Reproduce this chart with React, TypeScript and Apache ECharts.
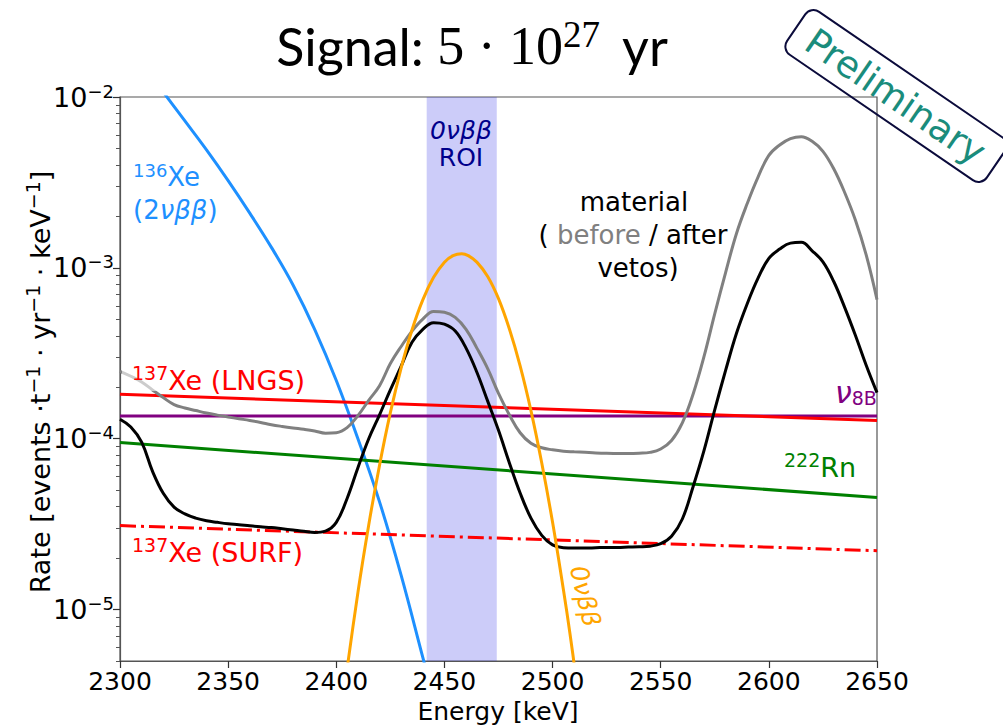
import React, { useEffect, useRef } from 'react';
import * as echarts from 'echarts';

// ---------- data ----------
const xMin = 2300;
const xMax = 2650;
const xInterval = 50;
const yMin = 5e-6;
const yMax = 1e-2;
const yMajorExp = [-5, -4, -3, -2];

const roiRange = [2441.8, 2474.2];

const xe136E = [2315, 2320, 2330, 2340, 2350, 2360, 2370, 2380, 2390, 2400, 2410, 2420, 2430, 2440, 2445];
const xe136V = [1.318e-2, 1.07e-2, 7.24e-3, 4.9e-3, 3.24e-3, 2.09e-3, 1.318e-3, 7.94e-4, 4.37e-4, 2.19e-4, 1.0e-4, 4.27e-5, 1.585e-5, 5.25e-6, 3.02e-6];

const onbbE = [2403, 2410, 2415, 2420, 2425, 2430, 2435, 2440, 2445, 2450, 2454, 2458, 2461, 2465, 2470, 2475, 2480, 2485, 2490, 2495, 2500, 2505, 2508, 2512];
const onbbV = [2.96e-6, 1.26e-5, 3.13e-5, 7.0e-5, 1.42e-4, 2.6e-4, 4.33e-4, 6.5e-4, 8.8e-4, 1.08e-3, 1.18e-3, 1.21e-3, 1.18e-3, 1.08e-3, 8.9e-4, 6.6e-4, 4.4e-4, 2.67e-4, 1.46e-4, 7.2e-5, 3.24e-5, 1.31e-5, 7.3e-6, 3.1e-6];

// material background, sampled every 5 keV
const materialE = [
  2300, 2305, 2310, 2315, 2320, 2325, 2330, 2335, 2340, 2345, 2350, 2355, 2360, 2365, 2370, 2375, 2380, 2385,
  2390, 2395, 2400, 2405, 2410, 2415, 2420, 2425, 2430, 2435, 2440, 2445, 2450, 2455, 2460, 2465, 2470, 2475,
  2480, 2485, 2490, 2495, 2500, 2505, 2510, 2515, 2520, 2525, 2530, 2535, 2540, 2545, 2550, 2555, 2560, 2565,
  2570, 2575, 2580, 2585, 2590, 2595, 2600, 2605, 2610, 2615, 2620, 2625, 2630, 2635, 2640, 2645, 2650,
];
const beforeV = [
  2.48e-4, 2.32e-4, 2.15e-4, 1.93e-4, 1.74e-4, 1.585e-4, 1.514e-4, 1.462e-4, 1.413e-4, 1.374e-4, 1.34e-4, 1.309e-4,
  1.279e-4, 1.245e-4, 1.208e-4, 1.18e-4, 1.156e-4, 1.135e-4, 1.11e-4, 1.078e-4, 1.085e-4, 1.161e-4, 1.365e-4,
  1.679e-4, 2.042e-4, 2.754e-4, 3.467e-4, 4.266e-4, 5.012e-4, 5.56e-4, 5.5e-4, 5.13e-4, 4.37e-4, 3.39e-4, 2.57e-4,
  1.84e-4, 1.38e-4, 1.084e-4, 9.4e-5, 8.85e-5, 8.61e-5, 8.45e-5, 8.38e-5, 8.32e-5, 8.26e-5, 8.22e-5, 8.2e-5,
  8.18e-5, 8.22e-5, 8.32e-5, 8.71e-5, 9.77e-5, 1.239e-4, 1.828e-4, 3.02e-4, 5.4e-4, 9.38e-4, 1.585e-3, 2.38e-3,
  3.4e-3, 4.55e-3, 5.24e-3, 5.71e-3, 5.86e-3, 5.5e-3, 4.81e-3, 3.8e-3, 2.77e-3, 1.905e-3, 1.19e-3, 6.52e-4,
];
const afterV = [
  1.3e-4, 1.17e-4, 9.55e-5, 6.46e-5, 4.79e-5, 3.98e-5, 3.63e-5, 3.43e-5, 3.31e-5, 3.24e-5, 3.18e-5, 3.14e-5,
  3.09e-5, 3.05e-5, 3.02e-5, 2.97e-5, 2.92e-5, 2.87e-5, 2.83e-5, 2.88e-5, 3.24e-5, 4.47e-5, 6.76e-5, 1.0e-4,
  1.38e-4, 1.93e-4, 2.66e-4, 3.67e-4, 4.37e-4, 4.78e-4, 4.68e-4, 4.27e-4, 3.39e-4, 2.45e-4, 1.66e-4, 1.12e-4,
  7.24e-5, 4.81e-5, 3.43e-5, 2.72e-5, 2.39e-5, 2.3e-5, 2.29e-5, 2.29e-5, 2.3e-5, 2.31e-5, 2.31e-5, 2.32e-5,
  2.33e-5, 2.35e-5, 2.43e-5, 2.69e-5, 3.39e-5, 5.25e-5, 8.51e-5, 1.48e-4, 2.51e-4, 4.13e-4, 6.17e-4, 8.71e-4,
  1.135e-3, 1.288e-3, 1.396e-3, 1.41e-3, 1.259e-3, 1.084e-3, 8.32e-4, 5.89e-4, 4.03e-4, 2.69e-4, 1.86e-4,
];

const lngsE = [2300, 2650];
const lngsV = [1.82e-4, 1.28e-4];
const nu8bE = [2300, 2650];
const nu8bV = [1.36e-4, 1.36e-4];
const rnE = [2300, 2650];
const rnV = [9.5e-5, 4.53e-5];
const surfE = [2300, 2650];
const surfV = [3.1e-5, 2.21e-5];

// ---------- styling ----------
const F = 'DejaVu Sans';
const C = {
  blue: '#1e90ff',
  orange: '#ffa500',
  gray: '#808080',
  black: '#000000',
  red: '#ff0000',
  purple: '#800080',
  green: '#008000',
  navy: '#00008b',
  teal: '#1a8c7c',
};

const zip = (e: number[], v: number[]) => e.map((x, i) => [x, v[i]]);

const line = (name: string, e: number[], v: number[], color: string, extra: any = {}) => ({
  type: 'line',
  name,
  data: zip(e, v),
  showSymbol: false,
  symbol: 'none',
  smooth: 0.4,
  silent: true,
  lineStyle: { color, width: 3 },
  itemStyle: { color },
  ...extra,
});

const minorTickValues: number[] = [];
for (let ex = -6; ex <= -3; ex++) {
  for (let k = 2; k <= 9; k++) {
    const lv = Math.log10(k) + ex;
    if (lv >= Math.log10(yMin) && lv <= Math.log10(yMax)) minorTickValues.push(lv);
  }
}

const supRich = (color: string, n: number, s: number) => ({
  n: { fontSize: n, lineHeight: n + 6, fill: color, fontFamily: F },
  s: { fontSize: s, lineHeight: 12, verticalAlign: 'top', fill: color, fontFamily: F },
  i: { fontSize: n, lineHeight: n + 6, fill: color, fontFamily: F, fontStyle: 'italic' },
});

const txt = (x: number, y: number, text: string, rich: any, extra: any = {}, el: any = {}) => ({
  type: 'text',
  x,
  y,
  silent: true,
  z: 100,
  ...el,
  style: { text, rich, align: 'left', verticalAlign: 'middle', fontFamily: F, ...extra },
});

const option: any = {
  animation: false,
  backgroundColor: '#ffffff',
  grid: {
    left: 120,
    right: 126,
    top: 97,
    bottom: 67,
    show: true,
    borderColor: '#555555',
    borderWidth: 1.2,
    backgroundColor: 'transparent',
  },
  xAxis: {
    type: 'value',
    min: xMin,
    max: xMax,
    interval: xInterval,
    axisLine: { show: true, onZero: false, lineStyle: { color: '#555555', width: 1.2 } },
    axisTick: { show: true, length: 7, lineStyle: { color: '#333333', width: 1.2 } },
    axisLabel: { fontSize: 25, color: '#000', fontFamily: F, margin: 8, formatter: (v: number) => String(v) },
    splitLine: { show: false },
  },
  yAxis: [
    {
      type: 'log',
      logBase: 10,
      min: yMin,
      max: yMax,
      axisLine: { show: true, lineStyle: { color: '#555555', width: 1.2 } },
      axisTick: { show: false },
      axisLabel: { show: false },
      splitLine: { show: false },
      minorTick: { show: false },
    },
    {
      type: 'value',
      min: Math.log10(yMin),
      max: Math.log10(yMax),
      position: 'left',
      axisLine: { show: false },
      axisTick: { show: true, customValues: yMajorExp, length: 7, lineStyle: { color: '#333333', width: 1.2 } },
      axisLabel: {
        customValues: yMajorExp,
        margin: 6,
        formatter: (v: number) => `{n|10}{s|−${Math.abs(Math.round(v))}}`,
        rich: {
          n: { fontSize: 27, lineHeight: 30, color: '#000', fontFamily: F },
          s: { fontSize: 18, lineHeight: 12, verticalAlign: 'top', color: '#000', fontFamily: F },
        },
      },
      splitLine: { show: false },
    },
    {
      type: 'value',
      min: Math.log10(yMin),
      max: Math.log10(yMax),
      position: 'left',
      axisLine: { show: false },
      axisTick: { show: true, customValues: minorTickValues, length: 4, lineStyle: { color: '#555555', width: 1 } },
      axisLabel: { show: false },
      splitLine: { show: false },
    },
  ],
  series: [
    {
      type: 'line',
      name: 'ROI',
      data: [],
      silent: true,
      markArea: {
        silent: true,
        itemStyle: { color: 'rgba(40,40,230,0.24)' },
        data: [[{ xAxis: roiRange[0] }, { xAxis: roiRange[1] }]],
      },
    },
    line('136Xe', xe136E, xe136V, C.blue),
    line('nu8B', nu8bE, nu8bV, C.purple, { smooth: false }),
    line('137Xe LNGS', lngsE, lngsV, C.red, { smooth: false }),
    line('222Rn', rnE, rnV, C.green, { smooth: false }),
    line('137Xe SURF', surfE, surfV, C.red, { smooth: false, lineStyle: { color: C.red, width: 3, type: [16, 5, 3, 5] } }),
    line('material before', materialE, beforeV, C.gray),
    line('material after', materialE, afterV, C.black),
    line('0vbb', onbbE, onbbV, C.orange),
  ],
  graphic: [
    // title
    {
      type: 'text',
      x: 472,
      y: 46,
      silent: true,
      style: {
        text: '{a|Signal: }{m|5 · 10}{p|27}{a|yr}',
        align: 'center',
        verticalAlign: 'middle',
        rich: {
          a: { fontSize: 52, lineHeight: 60, fill: '#000', fontFamily: 'Lato' },
          m: { fontSize: 54, lineHeight: 60, fill: '#000', fontFamily: 'Liberation Serif' },
          p: { fontSize: 37, lineHeight: 30, verticalAlign: 'top', fill: '#000', fontFamily: 'Liberation Serif', padding: [0, 22, 0, 0] },
        },
      },
    },
    // translucent box of the LNGS label (lightens the grey curve under it)
    {
      type: 'rect',
      silent: true,
      z: 90,
      zlevel: 0,
      shape: { x: 122, y: 362, width: 186, height: 29 },
      style: { fill: 'rgba(255,255,255,0.6)' },
    },
    // Preliminary stamp
    {
      type: 'group',
      x: 896,
      y: 96,
      rotation: -0.6,
      silent: true,
      children: [
        {
          type: 'rect',
          shape: { x: -121, y: -26, width: 242, height: 52, r: 10 },
          style: { fill: 'none', stroke: '#0b0b3b', lineWidth: 2 },
        },
        {
          type: 'text',
          x: 0,
          y: 1,
          style: { text: 'Preliminary', align: 'center', verticalAlign: 'middle', fontSize: 37, fill: C.teal, fontFamily: F },
        },
      ],
    },
    // axis names
    {
      type: 'text',
      x: 40,
      y: 382,
      rotation: Math.PI / 2,
      silent: true,
      style: {
        text: '{n|Rate [events ·t}{s|−1}{n| · yr}{s|−1}{n| · keV}{s|−1}{n|]}',
        align: 'center',
        verticalAlign: 'middle',
        rich: supRich('#000', 27, 19),
      },
    },
    {
      type: 'text',
      x: 498,
      y: 711,
      silent: true,
      style: { text: 'Energy [keV]', align: 'center', verticalAlign: 'middle', fontSize: 25, fill: '#000', fontFamily: F },
    },
    // annotations
    txt(133, 177, '{s|136}{n|Xe}', supRich(C.blue, 26, 18)),
    txt(133, 210, '{n|(2}{i|νββ}{n|)}', supRich(C.blue, 26, 18)),
    txt(132, 380, '{s|137}{n|Xe (LNGS)}', supRich(C.red, 27, 19)),
    txt(132, 552, '{s|137}{n|Xe (SURF)}', supRich(C.red, 27, 19)),
    txt(784, 467, '{s|222}{n|Rn}', supRich(C.green, 27, 19)),
    txt(835, 392, '{i|ν}{b|8B}', {
      i: { fontSize: 30, lineHeight: 30, fill: C.purple, fontFamily: F, fontStyle: 'italic' },
      b: { fontSize: 19, lineHeight: 16, verticalAlign: 'bottom', fill: C.purple, fontFamily: F },
    }),
    txt(461, 130, '{i|0νββ}', { i: { fontSize: 25, fill: C.navy, fontFamily: F, fontStyle: 'italic' } }, { align: 'center' }),
    txt(461, 157, 'ROI', null, { align: 'center', fontSize: 25, fill: C.navy }),
    txt(634, 202, 'material', null, { align: 'center', fontSize: 26, fill: '#000' }),
    txt(633, 235, '{k|(}{g| before}{k| / after}', {
      k: { fontSize: 26, fill: '#000', fontFamily: F },
      g: { fontSize: 26, fill: C.gray, fontFamily: F },
    }, { align: 'center' }),
    txt(638, 268, 'vetos)', null, { align: 'center', fontSize: 26, fill: '#000' }),
    txt(585, 596, '{i|0νββ}', { i: { fontSize: 25, fill: C.orange, fontFamily: F, fontStyle: 'italic' } }, { align: 'center' }, { rotation: -1.34 }),
  ],
};

export default function App() {
  const ref = useRef<HTMLDivElement>(null);
  useEffect(() => {
    const chart = echarts.init(ref.current!, null, { renderer: 'svg' });
    chart.setOption(option);
    return () => chart.dispose();
  }, []);
  return (
    <div
      ref={ref}
      style={{ position: 'fixed', left: 0, top: 0, width: 1003, height: 728, background: '#fff' }}
    />
  );
}
